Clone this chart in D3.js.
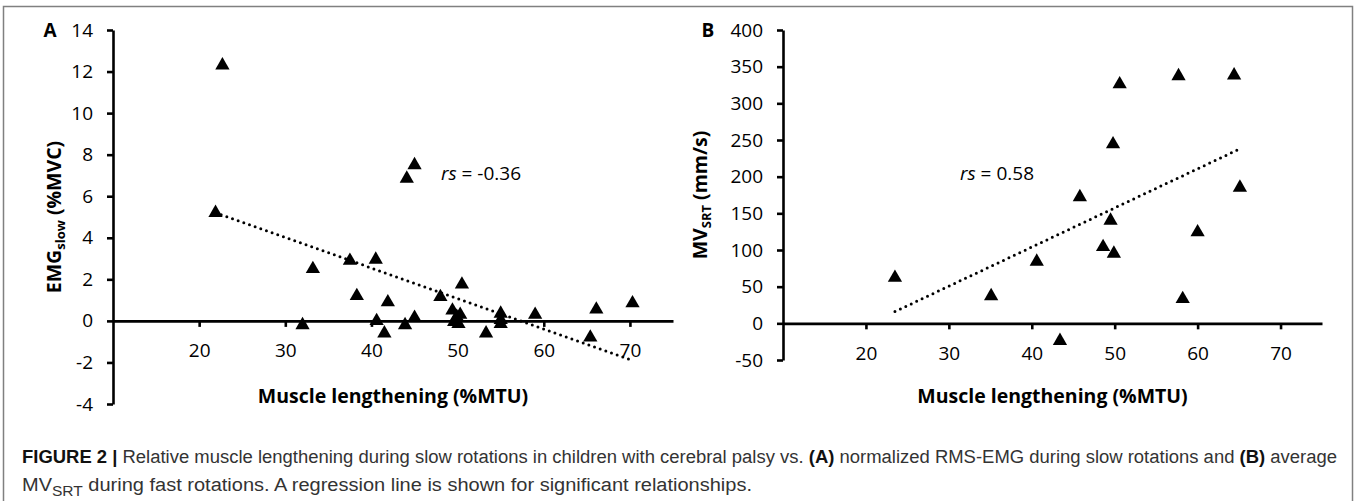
<!DOCTYPE html>
<html>
<head>
<meta charset="utf-8">
<script src="https://cdn.jsdelivr.net/npm/d3@7/dist/d3.min.js"></script>
<style>
    body { margin: 0; background: #fff; }
    svg { display: block; }
</style>
</head>
<body>
<svg id="chart" width="1358" height="501"></svg>
<script>
/* Panel A: muscle lengthening vs EMG slow */
var lengthA = [22.7, 21.9, 33.2, 37.5, 40.5, 38.3, 41.9, 32.0, 40.6, 41.5, 43.9, 45.0, 44.1, 45.0,
               48.0, 50.5, 49.4, 49.6, 49.9, 50.3, 50.1, 53.3, 55.0, 55.0, 55.0, 59.0, 66.1, 65.4, 70.3];
var emgSlow = [12.4, 5.3, 2.6, 3.0, 3.05, 1.3, 1.0, -0.1, 0.1, -0.5, -0.1, 0.25, 6.95, 7.6,
               1.25, 1.85, 0.6, 0.05, 0.3, 0.4, -0.05, -0.5, 0.45, 0.15, -0.05, 0.4, 0.65, -0.7, 0.95];
var trendA_x = [21.9, 70.3];
var trendA_y = [5.2, -1.9];

/* Panel B: muscle lengthening vs MV SRT */
var lengthB = [23.5, 35.1, 40.6, 43.4, 45.8, 48.6, 49.5, 49.9, 49.8, 50.6, 57.7, 58.2, 60.0, 64.4, 65.1];
var mvSRT   = [65, 40, 87, -21, 175, 107, 143, 98, 247, 329, 340, 36, 127, 341, 188];
var trendB_x = [23.5, 65.1];
var trendB_y = [16, 238];

/* Axis ticks */
var xTicks  = [20, 30, 40, 50, 60, 70];
var xDomain = [10, 75];
var yTicksA = [-4, -2, 0, 2, 4, 6, 8, 10, 12, 14];
var yTicksB = [-50, 0, 50, 100, 150, 200, 250, 300, 350, 400];

var FONT = "'Open Sans', 'Noto Sans', sans-serif";

// triangle centred on its bounding box, like the spreadsheet marker
var triangleUp = {
    draw: function(context, size) {
        var w = Math.sqrt(size * 4 / Math.sqrt(3));
        var h = w * Math.sqrt(3) / 2;
        context.moveTo(0, -h / 2);
        context.lineTo(w / 2, h / 2);
        context.lineTo(-w / 2, h / 2);
        context.closePath();
    }
};

// plain hyphen for negatives, as in the original
function plainNumber(d) { return String(d); }

function DrawPanel(svg, p) {
    var xScale = d3.scaleLinear().domain(xDomain).range(p.xRange);
    var yScale = d3.scaleLinear().domain(p.yDomain).range(p.yRange);

    // Y axis
    var yAxis = svg.append("g")
        .attr("transform", "translate(" + p.xRange[0] + ",0)")
        .call(d3.axisLeft(yScale).tickValues(p.yTicks).tickFormat(plainNumber)
              .tickSize(6).tickSizeOuter(0).tickPadding(14));

    // X axis through zero
    var xAxis = svg.append("g")
        .attr("transform", "translate(0," + yScale(0) + ")")
        .call(d3.axisBottom(xScale).tickValues(xTicks).tickFormat(plainNumber)
              .tickSize(6).tickSizeOuter(0).tickPadding(17));

    [yAxis, xAxis].forEach(function(g) {
        g.select(".domain").attr("stroke", "#000").attr("stroke-width", 2.6);
        g.selectAll(".tick line").attr("stroke", "#000").attr("stroke-width", 2.6);
        g.selectAll(".tick text")
            .style("font-family", FONT)
            .style("font-size", "19px")
            .attr("fill", "#000");
    });

    // Trend line
    var trend = p.trendX.map(function(v, i) { return [v, p.trendY[i]]; });
    svg.append("path")
        .datum(trend)
        .attr("d", d3.line().x(function(d) { return xScale(d[0]); }).y(function(d) { return yScale(d[1]); }))
        .attr("fill", "none")
        .attr("stroke", "#000")
        .attr("stroke-width", 3)
        .attr("stroke-linecap", "round")
        .attr("stroke-dasharray", "0,6");

    // Points
    svg.append("g")
        .selectAll("path").data(p.xs).enter()
        .append("path")
        .attr("d", d3.symbol().type(triangleUp).size(88))
        .attr("transform", function(d, i) {
            return "translate(" + xScale(d) + "," + yScale(p.ys[i]) + ")";
        })
        .attr("fill", "#000");

    // Panel letter
    svg.append("text")
        .attr("x", p.letterX)
        .attr("y", yScale(p.yDomain[1]) + 7)
        .attr("text-anchor", "middle")
        .style("font-family", FONT)
        .style("font-size", "19px")
        .style("font-weight", "bold")
        .text(p.letter);

    // rs annotation
    var rs = svg.append("text")
        .attr("x", p.rsX)
        .attr("y", p.rsY)
        .attr("text-anchor", "middle")
        .style("font-family", FONT)
        .style("font-size", "19px");
    rs.append("tspan").style("font-style", "italic").text("rs");
    rs.append("tspan").text(" = " + p.rsValue);

    // X axis title
    svg.append("text")
        .attr("x", (xScale(xDomain[0]) + xScale(xDomain[1])) / 2)
        .attr("y", 403)
        .attr("text-anchor", "middle")
        .style("font-family", FONT)
        .style("font-size", "19.5px")
        .style("font-weight", "bold")
        .text("Muscle lengthening (%MTU)");

    // Y axis title with subscript
    var cy = (p.yRange[0] + p.yRange[1]) / 2;
    var yt = svg.append("text")
        .attr("transform", "translate(" + p.yTitleX + "," + cy + ") rotate(-90)")
        .attr("text-anchor", "middle")
        .style("font-family", FONT)
        .style("font-size", "19.5px")
        .style("font-weight", "bold");
    yt.append("tspan").text(p.yTitle[0]);
    yt.append("tspan").attr("dy", 4).style("font-size", "13px").text(p.yTitle[1]);
    yt.append("tspan").attr("dy", -4).text(" " + p.yTitle[2]);
}

function Init() {
    var svg = d3.select("#chart");

    // figure frame
    svg.append("rect")
        .attr("x", 3.5).attr("y", 6.5)
        .attr("width", 1349).attr("height", 502)
        .attr("fill", "none")
        .attr("stroke", "#808080")
        .attr("stroke-width", 1.5);

    DrawPanel(svg, {
        letter: "A", letterX: 50,
        xs: lengthA, ys: emgSlow, trendX: trendA_x, trendY: trendA_y,
        xRange: [113, 673], yDomain: [-4, 14], yRange: [404, 30], yTicks: yTicksA,
        rsX: 481, rsY: 180, rsValue: "-0.36",
        yTitleX: 61, yTitle: ["EMG", "slow", "(%MVC)"]
    });

    DrawPanel(svg, {
        letter: "B", letterX: 708,
        xs: lengthB, ys: mvSRT, trendX: trendB_x, trendY: trendB_y,
        xRange: [783, 1322], yDomain: [-50, 400], yRange: [360, 30], yTicks: yTicksB,
        rsX: 997, rsY: 180, rsValue: "0.58",
        yTitleX: 707, yTitle: ["MV", "SRT", "(mm/s)"]
    });

    // Caption
    var capFont = "'Liberation Sans Narrow', 'Liberation Sans', Arial, sans-serif";
    var line1 = svg.append("text")
        .attr("x", 22).attr("y", 463)
        .attr("textLength", 1315).attr("lengthAdjust", "spacingAndGlyphs")
        .style("font-family", capFont)
        .style("font-size", "18px")
        .attr("fill", "#333");
    line1.append("tspan").style("font-weight", "bold").attr("fill", "#111").text("FIGURE 2 |");
    line1.append("tspan").text(" Relative muscle lengthening during slow rotations in children with cerebral palsy vs. ");
    line1.append("tspan").style("font-weight", "bold").attr("fill", "#111").text("(A)");
    line1.append("tspan").text(" normalized RMS-EMG during slow rotations and ");
    line1.append("tspan").style("font-weight", "bold").attr("fill", "#111").text("(B)");
    line1.append("tspan").text(" average");

    var line2 = svg.append("text")
        .attr("x", 22).attr("y", 491)
        .attr("textLength", 730).attr("lengthAdjust", "spacingAndGlyphs")
        .style("font-family", capFont)
        .style("font-size", "18px")
        .attr("fill", "#333");
    line2.append("tspan").text("MV");
    line2.append("tspan").attr("dy", 5).style("font-size", "14px").text("SRT");
    line2.append("tspan").attr("dy", -5).text(" during fast rotations. A regression line is shown for significant relationships.");
}

Init();
</script>
</body>
</html>
